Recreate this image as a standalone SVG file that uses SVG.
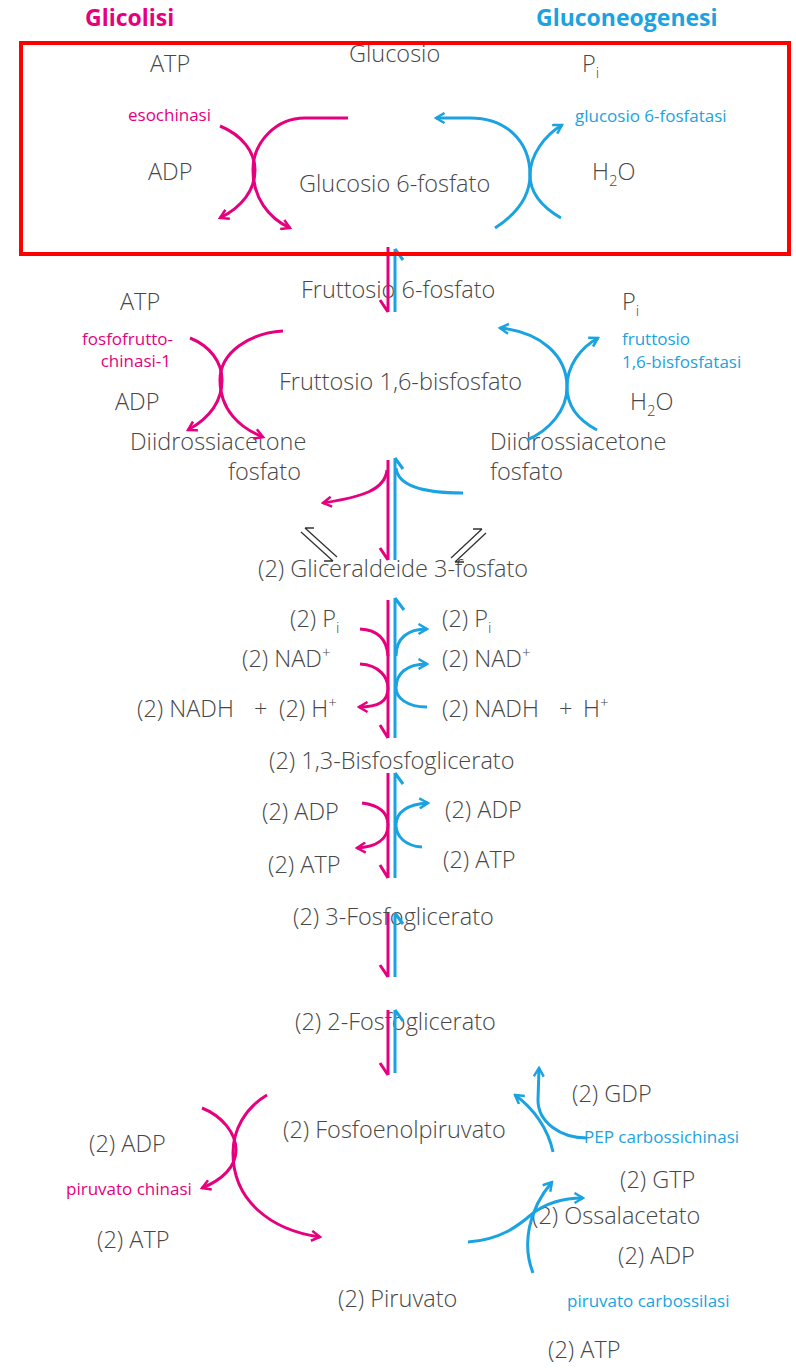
<svg xmlns="http://www.w3.org/2000/svg" width="796" height="1368" viewBox="0 0 796 1368">
<style>
text{font-family:"Open Sans","Noto Sans","Liberation Sans",sans-serif;}
.t{font-size:23.5px;fill:#474747;font-weight:300;}
.m{font-size:17px;fill:#E6007E;}
.c{font-size:17px;fill:#1AA3E0;}
.sub{font-size:15px;}
.title{font-size:23px;font-weight:bold;}
.pm{fill:none;stroke:#E6007E;stroke-width:3;}
.pc{fill:none;stroke:#1AA3E0;stroke-width:3;}
.pk{fill:none;stroke:#333;stroke-width:1.3;}
</style>
<defs>
<marker id="am" viewBox="0 0 12 12" refX="10" refY="6" markerWidth="12" markerHeight="12" markerUnits="userSpaceOnUse" orient="auto">
<path d="M1.5,1 L10,6 L1.5,11" fill="none" stroke="#E6007E" stroke-width="2.5"/>
</marker>
<marker id="ac" viewBox="0 0 12 12" refX="10" refY="6" markerWidth="12" markerHeight="12" markerUnits="userSpaceOnUse" orient="auto">
<path d="M1.5,1 L10,6 L1.5,11" fill="none" stroke="#1AA3E0" stroke-width="2.5"/>
</marker>
</defs>
<rect width="796" height="1368" fill="#fff"/>

<g id="titles">
<text class="title" x="85" y="26" fill="#E6007E">Glicolisi</text>
<text class="title" x="536" y="26" fill="#1AA3E0">Gluconeogenesi</text>
</g>

<g id="n-glucosio"><text class="t" x="349" y="62">Glucosio</text></g>
<g id="n-atp1"><text class="t" x="150" y="72">ATP</text></g>
<g id="n-pi1"><text class="t" x="582" y="72">P<tspan class="sub" dy="6">i</tspan></text></g>
<g id="n-esochinasi"><text class="m" x="128" y="121">esochinasi</text></g>
<g id="n-g6fasi"><text class="c" x="575" y="122">glucosio 6-fosfatasi</text></g>
<g id="n-adp1"><text class="t" x="148" y="180">ADP</text></g>
<g id="n-g6p"><text class="t" x="299" y="192">Glucosio 6-fosfato</text></g>
<g id="n-h2o1"><text class="t" x="592" y="180">H<tspan class="sub" dy="6">2</tspan><tspan dy="-6">O</tspan></text></g>

<g id="n-f6p"><text class="t" x="301" y="298">Fruttosio 6-fosfato</text></g>
<g id="n-atp2"><text class="t" x="120" y="310">ATP</text></g>
<g id="n-pi2"><text class="t" x="622" y="310">P<tspan class="sub" dy="6">i</tspan></text></g>
<g id="n-pfk"><text class="m" x="173" y="345" text-anchor="end">fosfofrutto-</text><text class="m" x="171" y="367" text-anchor="end">chinasi-1</text></g>
<g id="n-fbpasi"><text class="c" x="622" y="345">fruttosio</text><text class="c" x="622" y="368">1,6-bisfosfatasi</text></g>
<g id="n-f16bp"><text class="t" x="279" y="390">Fruttosio 1,6-bisfosfato</text></g>
<g id="n-adp2"><text class="t" x="115" y="410">ADP</text></g>
<g id="n-h2o2"><text class="t" x="630" y="410">H<tspan class="sub" dy="6">2</tspan><tspan dy="-6">O</tspan></text></g>
<g id="n-dhap-l"><text class="t" x="130" y="450">Diidrossiacetone</text><text class="t" x="228" y="480">fosfato</text></g>
<g id="n-dhap-r"><text class="t" x="490" y="450">Diidrossiacetone</text><text class="t" x="490" y="480">fosfato</text></g>

<g id="n-gap"><text class="t" x="258" y="577">(2) Gliceraldeide 3-fosfato</text></g>
<g id="n-pi3l"><text class="t" x="290" y="627">(2) P<tspan class="sub" dy="6">i</tspan></text></g>
<g id="n-pi3r"><text class="t" x="442" y="627">(2) P<tspan class="sub" dy="6">i</tspan></text></g>
<g id="n-nadl"><text class="t" x="242" y="667">(2) NAD<tspan class="sub" dy="-9">+</tspan></text></g>
<g id="n-nadr"><text class="t" x="442" y="667">(2) NAD<tspan class="sub" dy="-9">+</tspan></text></g>
<g id="n-nadhl"><text class="t" x="137" y="717">(2) NADH<tspan x="254">+</tspan><tspan x="279">(2) H</tspan><tspan class="sub" dy="-9">+</tspan></text></g>
<g id="n-nadhr"><text class="t" x="442" y="717">(2) NADH<tspan x="559">+</tspan><tspan x="583">H</tspan><tspan class="sub" dy="-9">+</tspan></text></g>
<g id="n-bpg"><text class="t" x="269" y="769">(2) 1,3-Bisfosfoglicerato</text></g>
<g id="n-adp3l"><text class="t" x="262" y="820">(2) ADP</text></g>
<g id="n-adp3r"><text class="t" x="445" y="818">(2) ADP</text></g>
<g id="n-atp3l"><text class="t" x="268" y="873">(2) ATP</text></g>
<g id="n-atp3r"><text class="t" x="443" y="868">(2) ATP</text></g>
<g id="n-3pg"><text class="t" x="293" y="925">(2) 3-Fosfoglicerato</text></g>
<g id="n-2pg"><text class="t" x="295" y="1030">(2) 2-Fosfoglicerato</text></g>

<g id="n-pep"><text class="t" x="283" y="1138">(2) Fosfoenolpiruvato</text></g>
<g id="n-adp4"><text class="t" x="89" y="1152">(2) ADP</text></g>
<g id="n-pk"><text class="m" x="66" y="1195">piruvato chinasi</text></g>
<g id="n-atp4"><text class="t" x="97" y="1248">(2) ATP</text></g>
<g id="n-gdp"><text class="t" x="572" y="1102">(2) GDP</text></g>
<g id="n-pepck"><text class="c" x="584" y="1143">PEP carbossichinasi</text></g>
<g id="n-gtp"><text class="t" x="620" y="1188">(2) GTP</text></g>
<g id="n-oaa"><text class="t" x="532" y="1224">(2) Ossalacetato</text></g>
<g id="n-adp5"><text class="t" x="618" y="1264">(2) ADP</text></g>
<g id="n-pyr"><text class="t" x="338" y="1307">(2) Piruvato</text></g>
<g id="n-pc"><text class="c" x="567" y="1307">piruvato carbossilasi</text></g>
<g id="n-atp5"><text class="t" x="548" y="1358">(2) ATP</text></g>

<g id="connectors">
<!-- hexokinase / G6Pase -->
<path class="pm" d="M348,118 L305,118 C276,118 253,142 253,170 C253,197 268,218 290,228" marker-end="url(#am)"/>
<path class="pm" d="M220,126 C242,135 255,152 255,170 C255,190 242,207 220,218" marker-end="url(#am)"/>
<path class="pc" d="M495,228 C515,215 530,198 530,175 C530,140 505,118 470,118 L436,118" marker-end="url(#ac)"/>
<path class="pc" d="M561,218 C542,207 530,192 530,175 C530,155 545,135 562,125" marker-end="url(#ac)"/>

<!-- vertical segment 1 -->
<path class="pm" d="M388,247 V312 M388,312 L380,300"/>
<path class="pc" d="M395,249 V312 M395,249 L403,260"/>

<!-- PFK-1 / FBPase -->
<path class="pm" d="M283,331 C250,333 220,352 220,380 C220,410 240,428 263,437" marker-end="url(#am)"/>
<path class="pm" d="M190,338 C210,346 222,362 222,380 C222,404 206,420 188,430" marker-end="url(#am)"/>
<path class="pc" d="M527,440 C550,430 567,410 567,387 C567,355 540,332 500,328" marker-end="url(#ac)"/>
<path class="pc" d="M597,430 C578,420 567,405 567,387 C567,366 580,348 598,338" marker-end="url(#ac)"/>

<!-- vertical segment 2 -->
<path class="pm" d="M388,460 V560 M388,560 L380,548"/>
<path class="pc" d="M395,458 V560 M395,458 L403,469"/>
<path class="pm" d="M387,470 C385,490 362,497 323,503" marker-end="url(#am)"/>
<path class="pc" d="M463,493 C428,493 398,487 396,468"/>

<!-- equilibrium arrows -->
<path class="pk" d="M305,528 L337,557 M305,528 L314,528"/>
<path class="pk" d="M301,532 L333,561 M333,561 L324,561"/>
<path class="pk" d="M482,529 L451,558 M482,529 L473,529"/>
<path class="pk" d="M486,533 L455,562 M455,562 L464,562"/>

<!-- vertical segment 3 (GAPDH) -->
<path class="pm" d="M388,600 V738 M388,738 L380,725"/>
<path class="pc" d="M395,598 V738 M395,598 L404,610"/>
<path class="pm" d="M360,629 C378,630 387,640 388,656"/>
<path class="pm" d="M360,664 C380,665 388,678 388,688 C388,702 378,707 359,707" marker-end="url(#am)"/>
<path class="pc" d="M396,656 C396,638 408,629 427,629" marker-end="url(#ac)"/>
<path class="pc" d="M427,707 C406,707 396,697 396,688 C396,674 406,664 427,664" marker-end="url(#ac)"/>

<!-- vertical segment 4 (PGK) -->
<path class="pm" d="M388,773 V878 M388,878 L380,865"/>
<path class="pc" d="M395,773 V878 M395,773 L403,784"/>
<path class="pm" d="M362,803 C378,805 388,812 388,825 C388,840 375,847 357,848" marker-end="url(#am)"/>
<path class="pc" d="M422,847 C405,846 396,836 396,825 C396,812 408,804 428,803" marker-end="url(#ac)"/>

<!-- vertical segment 5 -->
<path class="pm" d="M388,913 V977 M388,977 L380,965"/>
<path class="pc" d="M395,913 V977 M395,913 L403,924"/>

<!-- vertical segment 6 -->
<path class="pm" d="M388,1010 V1075 M388,1075 L380,1063"/>
<path class="pc" d="M395,1010 V1073 M395,1010 L403,1021"/>

<!-- pyruvate kinase -->
<path class="pm" d="M267,1095 C245,1108 233,1130 233,1153 C233,1200 270,1230 320,1237" marker-end="url(#am)"/>
<path class="pm" d="M202,1108 C222,1116 236,1133 236,1150 C236,1167 222,1180 202,1188" marker-end="url(#am)"/>

<!-- PEP carboxykinase -->
<path class="pc" d="M553,1152 C548,1128 533,1108 515,1095" marker-end="url(#ac)"/>
<path class="pc" d="M587,1138 C560,1138 538,1122 538,1100 L539,1068" marker-end="url(#ac)"/>

<!-- pyruvate carboxylase -->
<path class="pc" d="M468,1242 C500,1240 518,1226 532,1214 C546,1203 563,1198 583,1198" marker-end="url(#ac)"/>
<path class="pc" d="M533,1273 C522,1245 528,1210 552,1182" marker-end="url(#ac)"/>
</g>

<g id="highlight">
<rect x="21" y="43" width="768" height="211" fill="none" stroke="#FF0000" stroke-width="4"/>
</g>
</svg>
